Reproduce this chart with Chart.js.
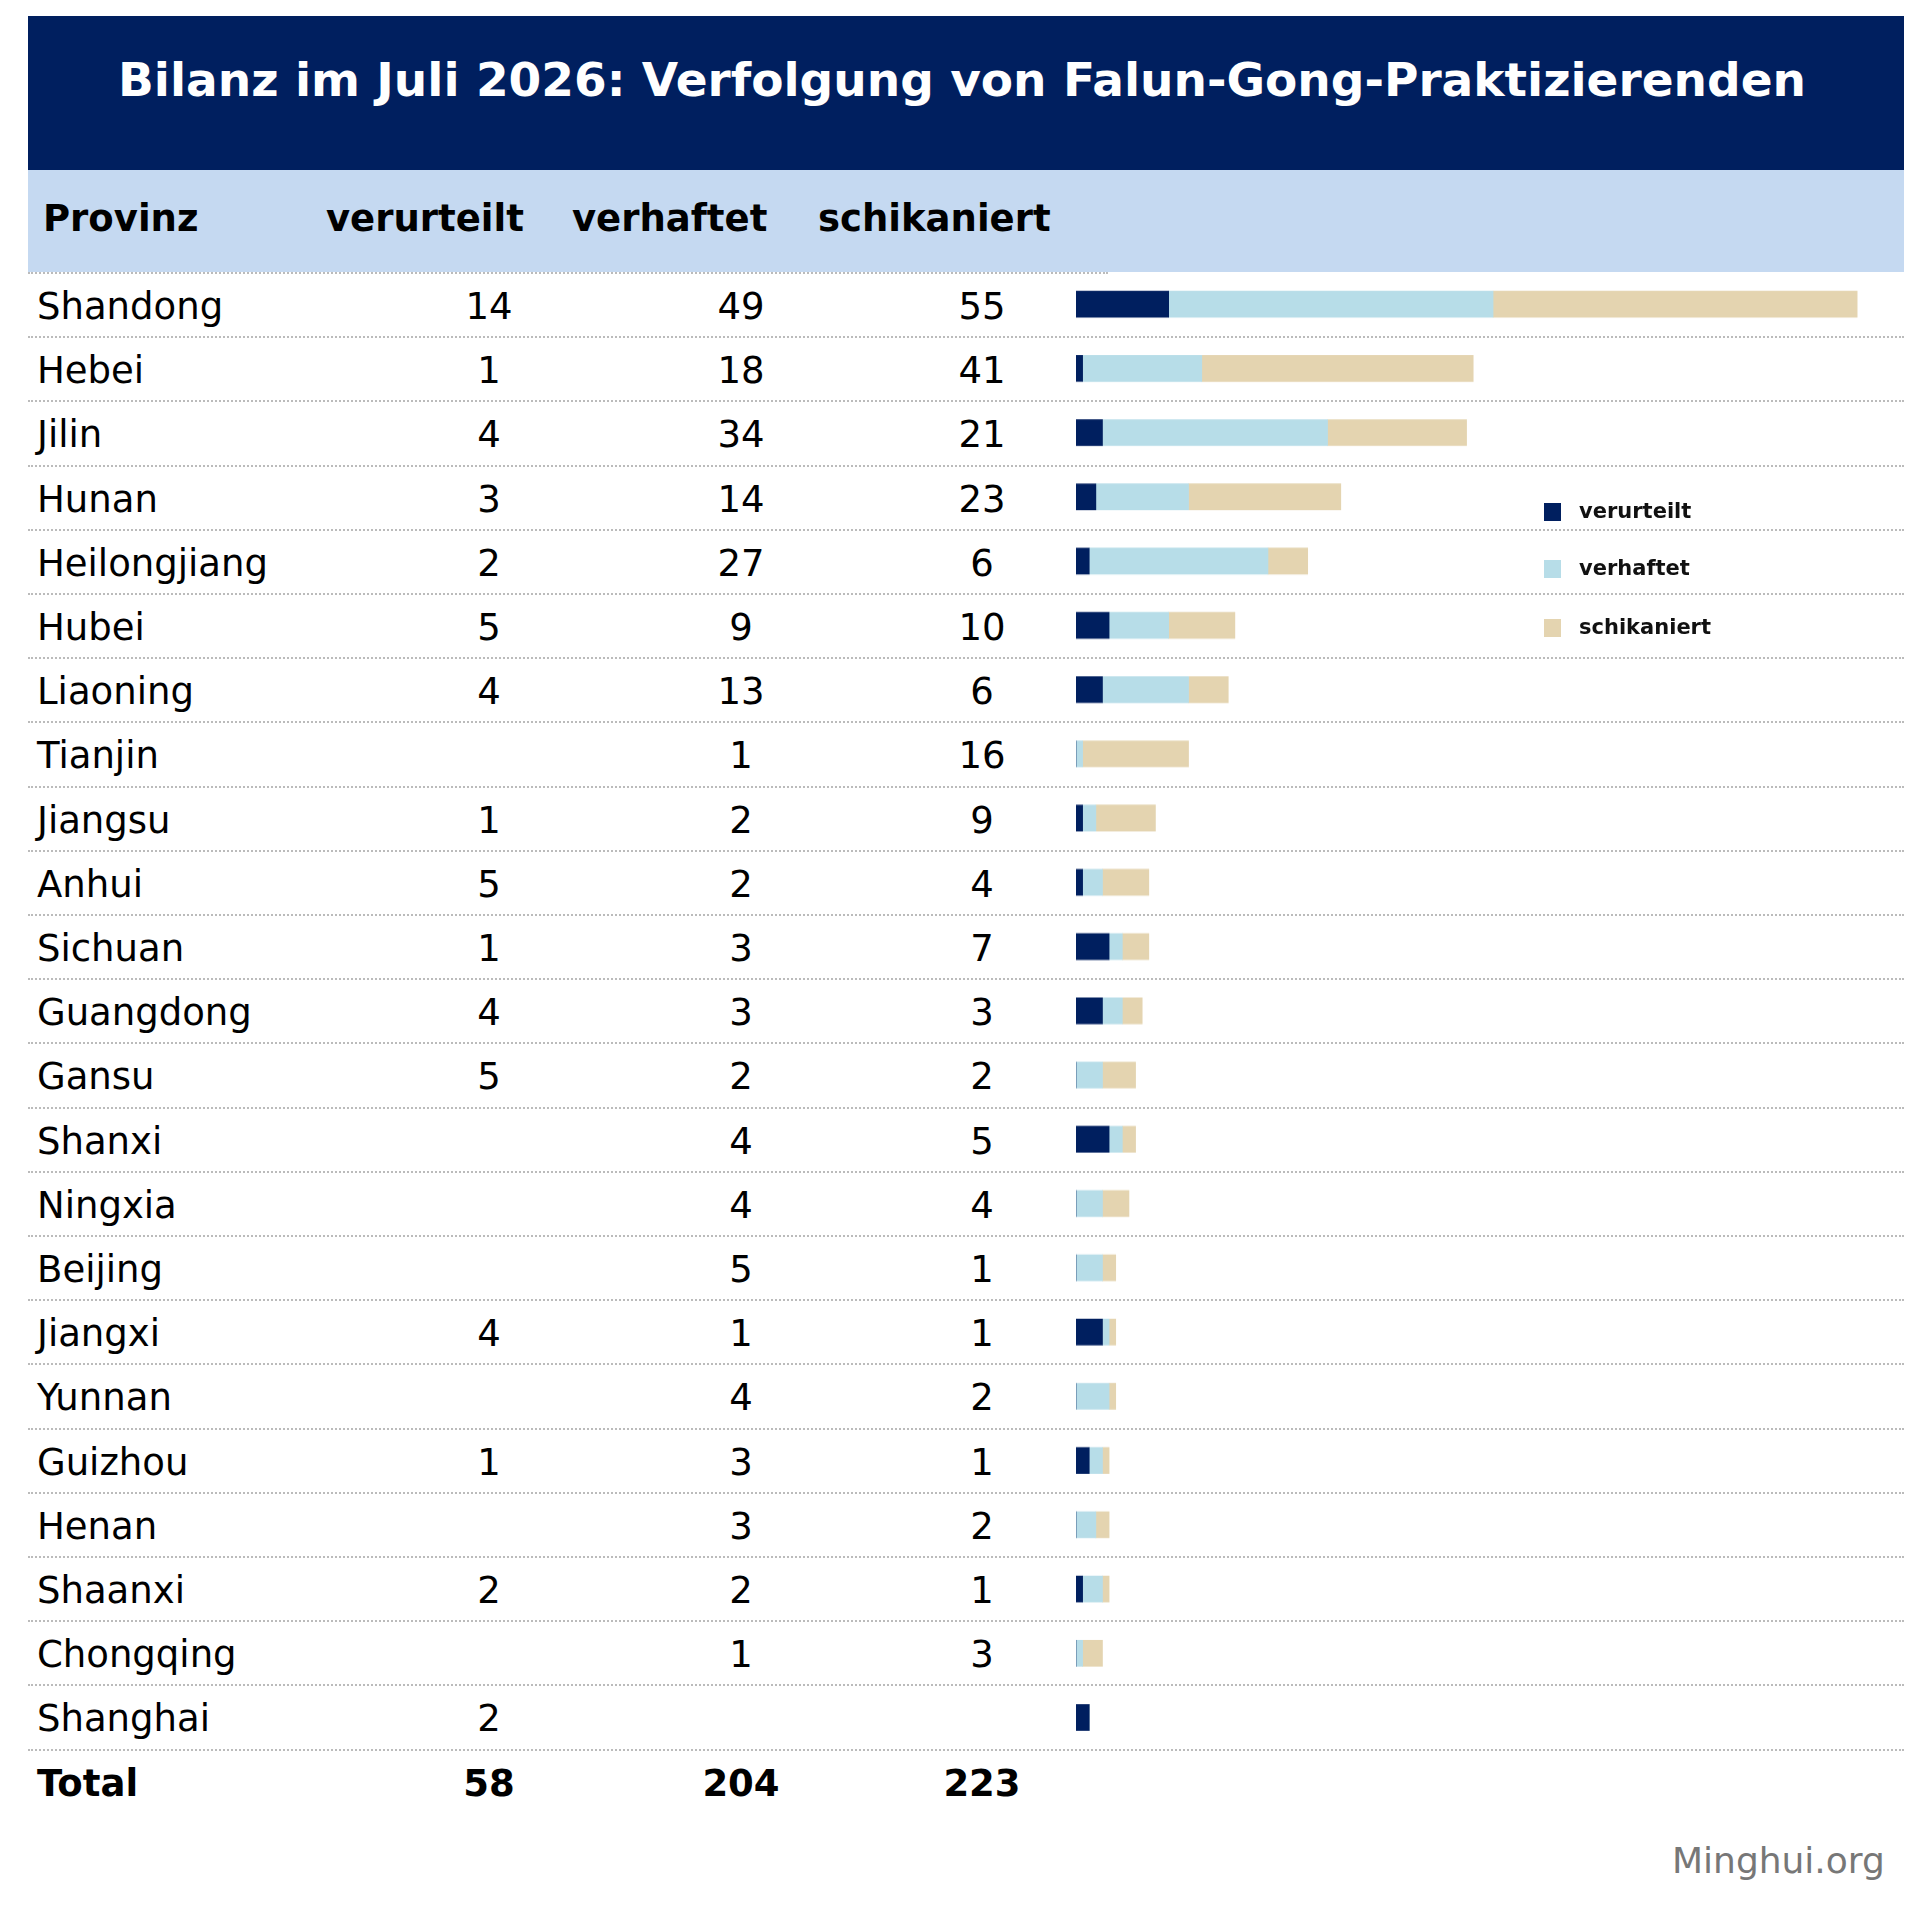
<!DOCTYPE html>
<html>
<head>
<meta charset="utf-8">
<script src="https://cdn.jsdelivr.net/npm/chart.js@4/dist/chart.umd.min.js"></script>
<style>
  body { margin: 0; background: #fff; font-family: "DejaVu Sans", Verdana, sans-serif; }
  #wrap { position: relative; width: 1914px; height: 1906px; overflow: hidden; }
  .abs { position: absolute; white-space: nowrap; }
  #title { left: 28px; top: 16px; width: 1876px; height: 154px; background: #001f5f; color: #fff;
           font-weight: bold; font-size: 47px; line-height: 128px; text-align: center; text-indent: -8px; }
  #head { left: 28px; top: 170px; width: 1876px; height: 102px; background: #c5d9f1; }
  .hd { font-weight: bold; font-size: 37px; top: 197px; color: #000; }
  .cell { font-size: 37px; color: #000; line-height: 64px; }
  .sep { left: 28px; width: 1876px; height: 0; border-top: 2px dotted #bbb; }
  .leg { font-size: 21px; font-weight: bold; color: #111; }
  .sw { width: 17px; height: 18px; }
  #chartBox { left: 1076px; top: 272px; width: 800px; }
</style>
</head>
<body>
<div id="wrap">
  <div id="title" class="abs">Bilanz im Juli 2026: Verfolgung von Falun-Gong-Praktizierenden</div>
  <div id="head" class="abs"></div>
  <div class="abs hd" style="left:43px">Provinz</div>
  <div class="abs hd" style="left:326px">verurteilt</div>
  <div class="abs hd" style="left:572px">verhaftet</div>
  <div class="abs hd" style="left:818px">schikaniert</div>
  <div class="abs sep" style="top:272px;width:1080px"></div>
  <div id="rows"></div>
  <div id="chartBox" class="abs"><canvas id="bars"></canvas></div>
  <div class="abs sw" style="left:1544px;top:503px;background:#001f5f"></div>
  <div class="abs leg" style="left:1579px;top:499px">verurteilt</div>
  <div class="abs sw" style="left:1544px;top:560px;background:#b7dde8"></div>
  <div class="abs leg" style="left:1579px;top:556px">verhaftet</div>
  <div class="abs sw" style="left:1544px;top:619px;background:#e4d4b0"></div>
  <div class="abs leg" style="left:1579px;top:615px">schikaniert</div>
  <div class="abs" style="left:1672px;top:1840px;font-size:36px;color:#777">Minghui.org</div>
</div>
<script>
const provinces = ["Shandong","Hebei","Jilin","Hunan","Heilongjiang","Hubei","Liaoning","Tianjin","Jiangsu","Anhui","Sichuan","Guangdong","Gansu","Shanxi","Ningxia","Beijing","Jiangxi","Yunnan","Guizhou","Henan","Shaanxi","Chongqing","Shanghai"]
const verurteilt  = [14,1,4,3,2,5,4,null,1,5,1,4,5,null,null,null,4,null,1,null,2,null,2]
const verhaftet   = [49,18,34,14,27,9,13,1,2,2,3,3,2,4,4,5,1,4,3,3,2,1,null]
const schikaniert = [55,41,21,23,6,10,6,16,9,4,7,3,2,5,4,1,1,2,1,2,1,3,null]
const totals = ["58","204","223"]

// bar lengths as drawn in the picture (some rows' bars differ from the table)
const barVerurteilt  = [14,1,4,3,2,5,4,0,1,1,5,4,0,5,0,0,4,0,2,0,1,0,2]
const barVerhaftet   = [49,18,34,14,27,9,13,1,2,3,2,3,4,2,4,4,1,5,2,3,3,1,0]
const barSchikaniert = [55,41,21,23,6,10,6,16,9,7,4,3,5,2,4,2,1,1,1,2,1,3,0]

const ROW_TOP = 272, ROW_H = 64.2
const rows = document.getElementById("rows")
function cell(text, x, y, align, bold) {
  const d = document.createElement("div")
  d.className = "abs cell"
  d.textContent = text
  d.style.top = y + "px"
  if (bold) d.style.fontWeight = "bold"
  if (align === "left") d.style.left = x + "px"
  else { d.style.left = (x - 100) + "px"; d.style.width = "200px"; d.style.textAlign = "center" }
  rows.appendChild(d)
}
provinces.forEach((p, i) => {
  const y = ROW_TOP + i * ROW_H + 3
  cell(p, 37, y, "left")
  if (verurteilt[i] != null) cell(verurteilt[i], 489, y, "center")
  if (verhaftet[i] != null) cell(verhaftet[i], 741, y, "center")
  if (schikaniert[i] != null) cell(schikaniert[i], 982, y, "center")
  const s = document.createElement("div")
  s.className = "abs sep"
  s.style.top = (ROW_TOP + (i + 1) * ROW_H) + "px"
  rows.appendChild(s)
})
const ty = ROW_TOP + provinces.length * ROW_H + 3
cell("Total", 37, ty, "left", true)
cell(totals[0], 489, ty, "center", true)
cell(totals[1], 741, ty, "center", true)
cell(totals[2], 982, ty, "center", true)

const box = document.getElementById("chartBox")
box.style.height = (provinces.length * ROW_H) + "px"
new Chart(document.getElementById("bars"), {
  type: "bar",
  data: {
    labels: provinces,
    datasets: [
      { label: "verurteilt", data: barVerurteilt, backgroundColor: "#001f5f" },
      { label: "verhaftet", data: barVerhaftet, backgroundColor: "#b7dde8" },
      { label: "schikaniert", data: barSchikaniert, backgroundColor: "#e4d4b0" },
    ],
  },
  options: {
    indexAxis: "y",
    responsive: true,
    maintainAspectRatio: false,
    animation: false,
    layout: { padding: 0 },
    datasets: { bar: { barThickness: 26 } },
    scales: {
      x: { stacked: true, display: false, min: 0, max: 800 / 6.62 },
      y: { stacked: true, display: false },
    },
    plugins: { legend: { display: false }, tooltip: { enabled: false } },
  },
})
</script>
</body>
</html>
